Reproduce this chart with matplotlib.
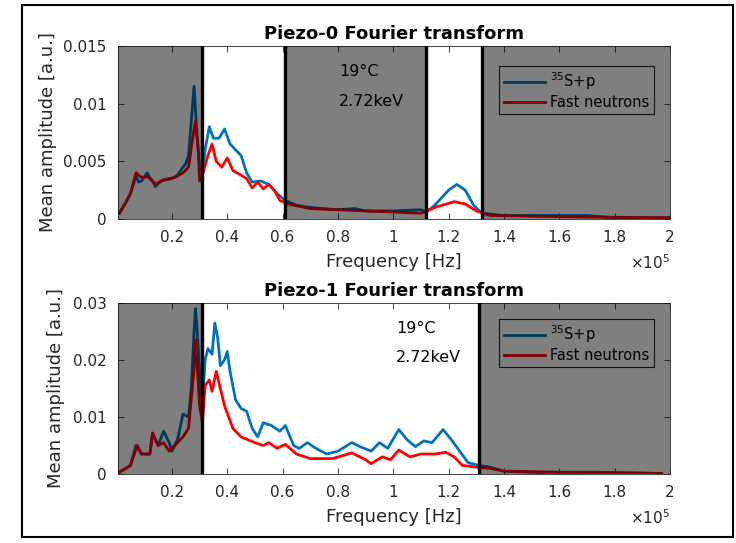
import matplotlib
matplotlib.use("Agg")
import matplotlib.pyplot as plt
import matplotlib.patches as mpatches
from matplotlib.ticker import FuncFormatter, MultipleLocator
import numpy as np

plt.rcParams['font.family'] = ['DejaVu Sans']

# ---------------- Piezo-0 spectra (frequency in units of 1e5 Hz) ----------------
p0_sp_freq = [0.01, 0.03, 0.05, 0.07, 0.08, 0.09, 0.10, 0.11, 0.12, 0.13, 0.14, 0.16,
              0.18, 0.20, 0.22, 0.24, 0.25, 0.26, 0.27, 0.28, 0.285, 0.29, 0.30, 0.31,
              0.32, 0.335, 0.35, 0.37, 0.39, 0.41, 0.43, 0.45, 0.47, 0.49, 0.52, 0.55,
              0.58, 0.61, 0.65, 0.70, 0.80, 0.86, 0.90, 1.00, 1.10, 1.12, 1.15, 1.20,
              1.23, 1.26, 1.29, 1.32, 1.40, 1.60, 1.70, 1.80, 2.00]
p0_sp_amp = [0.0005, 0.0013, 0.0022, 0.0037, 0.0032, 0.0033, 0.0036, 0.0040, 0.0036, 0.0033,
             0.0028, 0.0033, 0.0034, 0.0035, 0.0038, 0.0045, 0.0048, 0.0055, 0.0085, 0.0115,
             0.0095, 0.0075, 0.0045, 0.0040, 0.0060, 0.0080, 0.0070, 0.0070, 0.0078, 0.0065,
             0.0060, 0.0055, 0.0040, 0.0032, 0.0033, 0.0030, 0.0022, 0.0016, 0.0012, 0.0010,
             0.0008, 0.0009, 0.0007, 0.0007, 0.0008, 0.0006, 0.0012, 0.0025, 0.0030, 0.0025,
             0.0012, 0.0005, 0.0003, 0.0003, 0.0003, 0.0001, 0.0001]

p0_fn_freq = [0.01, 0.03, 0.05, 0.07, 0.09, 0.11, 0.13, 0.14, 0.17, 0.21, 0.24, 0.26,
              0.275, 0.285, 0.295, 0.30, 0.31, 0.33, 0.345, 0.36, 0.38, 0.40, 0.42, 0.45,
              0.47, 0.49, 0.51, 0.53, 0.55, 0.57, 0.59, 0.62, 0.70, 0.90, 1.10, 1.15,
              1.22, 1.26, 1.30, 1.35, 1.60, 2.00]
p0_fn_amp = [0.0005, 0.0013, 0.0022, 0.0040, 0.0036, 0.0037, 0.0033, 0.0030, 0.0034, 0.0036,
             0.0040, 0.0045, 0.0070, 0.0085, 0.0060, 0.0033, 0.0038, 0.0055, 0.0065, 0.0050,
             0.0045, 0.0053, 0.0042, 0.0038, 0.0035, 0.0027, 0.0032, 0.0026, 0.0030, 0.0025,
             0.0016, 0.0013, 0.0009, 0.0007, 0.0005, 0.0010, 0.0015, 0.0013, 0.0007, 0.0003,
             0.0002, 0.0001]

# ---------------- Piezo-1 spectra ----------------
p1_sp_freq = [0.01, 0.05, 0.07, 0.09, 0.12, 0.13, 0.15, 0.17, 0.19, 0.20, 0.22, 0.24,
              0.26, 0.27, 0.28, 0.285, 0.29, 0.30, 0.31, 0.32, 0.33, 0.345, 0.355, 0.365,
              0.375, 0.39, 0.40, 0.41, 0.43, 0.45, 0.47, 0.49, 0.51, 0.53, 0.56, 0.59,
              0.61, 0.64, 0.66, 0.69, 0.72, 0.76, 0.80, 0.85, 0.88, 0.92, 0.95, 0.98,
              1.02, 1.05, 1.08, 1.11, 1.14, 1.18, 1.21, 1.24, 1.27, 1.31, 1.35, 1.40,
              1.50, 1.75, 1.95]
p1_sp_amp = [0.0003, 0.0015, 0.0050, 0.0035, 0.0035, 0.0070, 0.0050, 0.0075, 0.0055, 0.0040,
             0.0060, 0.0105, 0.0100, 0.0150, 0.0250, 0.0290, 0.0260, 0.0180, 0.0120, 0.0200,
             0.0220, 0.0210, 0.0265, 0.0240, 0.0190, 0.0200, 0.0215, 0.0180, 0.0130, 0.0115,
             0.0110, 0.0080, 0.0065, 0.0090, 0.0085, 0.0075, 0.0085, 0.0050, 0.0045, 0.0055,
             0.0045, 0.0035, 0.0040, 0.0055, 0.0048, 0.0040, 0.0055, 0.0045, 0.0078, 0.0060,
             0.0048, 0.0058, 0.0055, 0.0078, 0.0060, 0.0040, 0.0020, 0.0015, 0.0012, 0.0005,
             0.0003, 0.0003, 0.0001]

p1_fn_freq = [0.01, 0.05, 0.075, 0.09, 0.12, 0.13, 0.15, 0.17, 0.19, 0.21, 0.24, 0.26,
              0.28, 0.285, 0.29, 0.30, 0.31, 0.32, 0.335, 0.345, 0.36, 0.375, 0.39, 0.42,
              0.45, 0.50, 0.53, 0.55, 0.58, 0.61, 0.65, 0.70, 0.78, 0.85, 0.90, 0.92,
              0.96, 0.99, 1.02, 1.06, 1.10, 1.15, 1.19, 1.22, 1.25, 1.30, 1.35, 1.40,
              1.60, 1.97]
p1_fn_amp = [0.0003, 0.0015, 0.0050, 0.0035, 0.0035, 0.0072, 0.0050, 0.0055, 0.0040, 0.0050,
             0.0065, 0.0080, 0.0185, 0.0235, 0.0200, 0.0120, 0.0090, 0.0155, 0.0165, 0.0145,
             0.0180, 0.0150, 0.0120, 0.0080, 0.0065, 0.0055, 0.0050, 0.0055, 0.0045, 0.0052,
             0.0035, 0.0027, 0.0027, 0.0037, 0.0025, 0.0018, 0.0030, 0.0025, 0.0042, 0.0030,
             0.0035, 0.0035, 0.0038, 0.0030, 0.0015, 0.0012, 0.0010, 0.0005, 0.0003, 0.0001]

# frequency-window boundaries (1e5 Hz) and the excluded (shaded) bands
p0_cuts = [0.31, 0.61, 1.12, 1.32]
p0_masked = [(0.0, 0.31), (0.61, 1.12), (1.32, 2.0)]
p1_cuts = [0.31, 1.31]
p1_masked = [(0.0, 0.31), (1.31, 2.0)]

titles = ["Piezo-0 Fourier transform", "Piezo-1 Fourier transform"]
series_labels = [r"$^{35}$S+p", "Fast neutrons"]
temp_label = "19°C"
energy_label = "2.72keV"

BLUE = "#0072BD"
RED = "#FF0000"
AXCOL = "#262626"

fig = plt.figure(figsize=(7.36, 5.43), dpi=100)
fig.patch.set_facecolor("white")

# outer frame
fig.patches.append(mpatches.Rectangle((0.030, 0.011), 0.966, 0.980, transform=fig.transFigure,
                                      fill=False, edgecolor="black", linewidth=1.5))

panels = [
    dict(rect=[0.1603, 0.5967, 0.750, 0.3186], sp=(p0_sp_freq, p0_sp_amp), fn=(p0_fn_freq, p0_fn_amp),
         cuts=p0_cuts, masked=p0_masked, ymax=0.015, ystep=0.005,
         txt_x=0.805, txt_y=(0.0124, 0.0098), leg=(0.971, 0.884), ylabpad=5),
    dict(rect=[0.1603, 0.1271, 0.750, 0.3149], sp=(p1_sp_freq, p1_sp_amp), fn=(p1_fn_freq, p1_fn_amp),
         cuts=p1_cuts, masked=p1_masked, ymax=0.03, ystep=0.01,
         txt_x=1.01, txt_y=(0.0247, 0.0196), leg=(0.971, 0.906), ylabpad=5.5),
]

for i, p in enumerate(panels):
    ax = fig.add_axes(p["rect"])
    f_sp = np.asarray(p["sp"][0]) * 1e5
    f_fn = np.asarray(p["fn"][0]) * 1e5
    l1, = ax.plot(f_sp, p["sp"][1], color=BLUE, lw=2.0, zorder=2, label=series_labels[0])
    l2, = ax.plot(f_fn, p["fn"][1], color=RED, lw=2.0, zorder=2.1, label=series_labels[1])

    for a, b in p["masked"]:
        ax.axvspan(a * 1e5, b * 1e5, facecolor="black", alpha=0.5, lw=0, zorder=3)
    for c in p["cuts"]:
        ax.axvline(c * 1e5, color="black", lw=2.4, zorder=4)

    ax.text(p["txt_x"] * 1e5, p["txt_y"][0], temp_label, fontsize=11.5, color="black", zorder=1)
    ax.text(p["txt_x"] * 1e5, p["txt_y"][1], energy_label, fontsize=11.5, color="black", zorder=1)

    leg = ax.legend(handles=[l1, l2], loc="upper right", bbox_to_anchor=p["leg"], borderaxespad=0,
                    fontsize=10.5, handlelength=2.8, handletextpad=0.4, borderpad=0.3,
                    labelspacing=0.2, fancybox=False, framealpha=1.0, edgecolor=AXCOL)
    leg.get_frame().set_linewidth(0.8)
    leg.set_zorder(2.5)

    ax.set_xlim(500, 2e5)
    ax.set_ylim(0, p["ymax"])
    ax.xaxis.set_major_locator(MultipleLocator(2e4))
    ax.yaxis.set_major_locator(MultipleLocator(p["ystep"]))
    ax.xaxis.set_major_formatter(FuncFormatter(lambda v, pos: "%g" % round(v / 1e5, 3)))
    ax.yaxis.set_major_formatter(FuncFormatter(lambda v, pos: "%g" % round(v, 4)))
    ax.tick_params(direction="in", top=True, right=True, length=4, width=0.6,
                   labelsize=11, colors=AXCOL, pad=8)
    for s in ax.spines.values():
        s.set_color(AXCOL)
        s.set_linewidth(0.6)

    ax.set_title(titles[i], fontsize=13, fontweight="bold", color="black", pad=5)
    ax.set_xlabel("Frequency [Hz]", fontsize=13, color=AXCOL, labelpad=6)
    ax.set_ylabel("Mean amplitude [a.u.]", fontsize=13, color=AXCOL, labelpad=p["ylabpad"])
    ax.text(1.0, -0.20, r"$\times10^{5}$", transform=ax.transAxes, ha="right", va="top",
            fontsize=11, color=AXCOL)

fig.savefig("out.png", dpi=100, facecolor="white")
